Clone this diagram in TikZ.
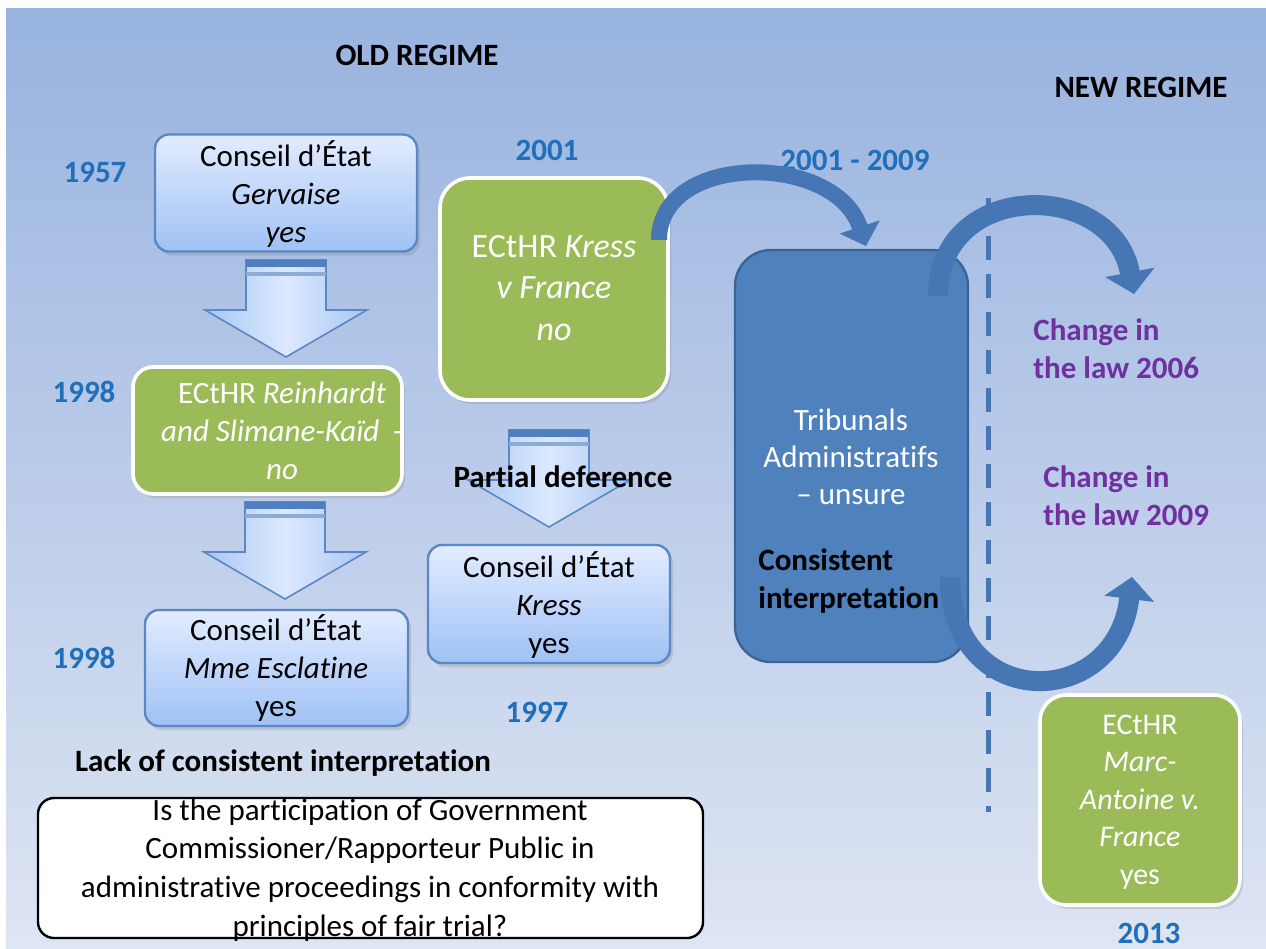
\documentclass[tikz,border=0pt]{standalone}
\usepackage{fontspec}
\setmainfont{Carlito}[Ligatures=NoCommon]
\usetikzlibrary{arrows.meta,shadows}
\definecolor{bgtop}{HTML}{98B3DF}
\definecolor{bgbot}{HTML}{DEE5F3}
\definecolor{lbtop}{HTML}{E2ECFF}
\definecolor{lbbot}{HTML}{9FC1F5}
\definecolor{lbedge}{HTML}{5B87C5}
\definecolor{grn}{HTML}{9BBB59}
\definecolor{dblue}{HTML}{4F81BD}
\definecolor{dedge}{HTML}{3A6496}
\definecolor{yearblue}{HTML}{1F6FBA}
\definecolor{purp}{HTML}{7030A0}
\definecolor{ribbon}{HTML}{4676B3}
\definecolor{arrside}{HTML}{A8C6F2}
\definecolor{arrmid}{HTML}{DCE9FF}
\definecolor{arrband}{HTML}{4F7FBE}
\tikzset{
  txt/.style={font=\fontsize{15.5}{19}\selectfont, inner sep=0pt, align=center},
  bold/.style={font=\fontsize{15.5}{19}\selectfont\bfseries, inner sep=0pt},
  year/.style={bold, text=yearblue},
  lbox/.style={draw=lbedge, line width=1.2pt, rounded corners=7pt, top color=lbtop, bottom color=lbbot,
    drop shadow={shadow xshift=1.5pt, shadow yshift=-2pt, opacity=0.25}},
  gbox/.style={draw=white, line width=1.8pt, fill=grn,
    drop shadow={shadow xshift=1.5pt, shadow yshift=-2pt, opacity=0.25}},
  tbox/.style={draw=dedge, line width=1.2pt, fill=dblue, rounded corners=18pt},
  qbox/.style={draw=black, line width=1.2pt, fill=white, rounded corners=8pt},
  ribbonA/.style={draw=ribbon, line width=8pt, line cap=butt,
    -{Triangle[width=21pt,length=10pt,line width=0.5pt]}},
  ribbonB/.style={draw=ribbon, line width=10pt, line cap=butt,
    -{Triangle[width=25pt,length=11pt,line width=0.5pt]}},
  dashline/.style={draw=ribbon, line width=2.5pt, dash pattern=on 12pt off 7pt},
  blockdown/.pic={
    \shadedraw[draw=lbedge, line width=0.8pt, left color=arrside, right color=arrside, middle color=arrmid]
      (-40,0) -- (40,0) -- (40,50) -- (81,50) -- (0,97) -- (-81,50) -- (-40,50) -- cycle;
    \fill[arrband] (-40,0) rectangle (40,7);
    \fill[arrband!65!white] (-40,12) rectangle (40,16);
  }
}
\begin{document}
\begin{tikzpicture}[x=0.5pt,y=-0.5pt]
\useasboundingbox (0,0) rectangle (1266,949);
\fill[white] (0,0) rectangle (1266,949);
\shade[top color=bgtop, bottom color=bgbot] (6,8) rectangle (1266,949);

% headings
\node[bold] (old) at (417,55) {OLD REGIME};
\node[bold] (new) at (1141,87) {NEW REGIME};

% years
\node[year] (y1957) at (95,172) {1957};
\node[year] (y2001) at (547,150) {2001};
\node[year] (y0109) at (855,160) {2001 - 2009};
\node[year] (y1998a) at (84,392) {1998};
\node[year] (y1998b) at (84,658) {1998};
\node[year] (y1997) at (537,712) {1997};
\node[year] (y2013) at (1149,933) {2013};

% block arrows
\pic at (286,260) {blockdown};
\pic at (285,502) {blockdown};
\pic at (549,430) {blockdown};

% boxes
\node[lbox, minimum width=131pt, minimum height=58.5pt] (gerv) at (286,193) {};
\node[txt] (gervT) at (286,194) {Conseil d’État\\\textit{Gervaise}\\\textit{yes}};

\node[gbox, rounded corners=10pt, minimum width=134.5pt, minimum height=63.5pt] (rein) at (267.5,430.5) {};
\node[txt, text=white] (reinT) at (282,431) {ECtHR \textit{Reinhardt}\\\textit{and Slimane-Kaïd}\ \ -\\\textit{no}};

\node[lbox, minimum width=131.5pt, minimum height=58pt] (escl) at (276.5,668) {};
\node[txt] (esclT) at (276,668) {Conseil d’État\\\textit{Mme Esclatine}\\yes};

\node[gbox, rounded corners=15pt, minimum width=114pt, minimum height=111pt] (kress) at (554,289) {};
\node[txt, text=white, font=\fontsize{17}{20.75}\selectfont] (kressT) at (554,288) {ECtHR \textit{Kress}\\\textit{v France}\\\textit{no}};

\node[lbox, minimum width=121pt, minimum height=59pt] (cek) at (549,604) {};
\node[txt] (cekT) at (549,605) {Conseil d’État\\\textit{Kress}\\yes};

\node[tbox, minimum width=116.5pt, minimum height=206pt] (trib) at (851.5,456) {};
\node[txt, text=white, font=\fontsize{15.5}{18.5}\selectfont] (tribT) at (851,457) {Tribunals\\Administratifs\\– unsure};
\node[bold, anchor=west, align=left] (cons) at (758,581) {Consistent\\interpretation};

\node[gbox, rounded corners=13pt, minimum width=100pt, minimum height=105pt] (marc) at (1140,800) {};
\node[txt, text=white, font=\fontsize{15}{18.75}\selectfont] (marcT) at (1140,802) {ECtHR\\\textit{Marc-}\\\textit{Antoine v.}\\\textit{France}\\yes};

\node[qbox, minimum width=332.5pt, minimum height=70pt] (quest) at (370.5,868) {};
\node[txt, font=\fontsize{15.5}{19.35}\selectfont] (questT) at (370,870) {Is the participation of Government\\Commissioner/Rapporteur Public in\\administrative proceedings in conformity with\\principles of fair trial?};

% labels
\node[bold] (partial) at (563,477) {Partial deference};
\node[bold] (lack) at (283,763) {Lack of consistent interpretation};
\node[bold, text=purp, anchor=west, align=left] (ch06) at (1033,349) {Change in\\the law 2006};
\node[bold, text=purp, anchor=west, align=left] (ch09) at (1043,496) {Change in\\the law 2009};

% dashed divider
\coordinate (dtop) at (988,198);
\coordinate (dbot) at (988,812);
\draw[dashline] (dtop) -- (dbot);

% curved arrows
\coordinate (c1s) at (659,240);
\coordinate (c1e) at (866,246);
\draw[ribbonA] (c1s) .. controls (659,152) and (835,152) .. (c1e);
\coordinate (c2s) at (938,296);
\coordinate (c2e) at (1134,294);
\draw[ribbonB] (c2s) .. controls (938,179) and (1112,179) .. (c2e);
\coordinate (c3s) at (950,577);
\coordinate (c3e) at (1132,577);
\draw[ribbonB] (c3s) .. controls (950,712) and (1115,712) .. (c3e);
\end{tikzpicture}
\end{document}
